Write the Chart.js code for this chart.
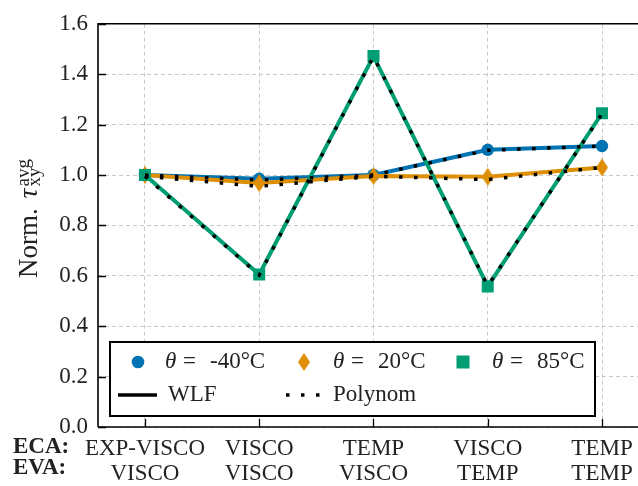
<!DOCTYPE html>
<html>
<head>
<meta charset="utf-8">
<script src="https://cdn.jsdelivr.net/npm/chart.js@4.4.0/dist/chart.umd.min.js"></script>
<style>
  body { margin: 0; background: #fff; }
  #wrap { width: 638px; height: 486px; }
</style>
</head>
<body>
<div id="wrap"><canvas id="grafico" width="638" height="486"></canvas></div>
<script>
// Categorias del eje X (dos filas: ECA y EVA)
const categoriasECA = ["EXP-VISCO", "VISCO", "TEMP", "VISCO", "TEMP"];
const categoriasEVA = ["VISCO", "VISCO", "VISCO", "TEMP", "TEMP"];

// Ticks del eje Y
const ticksY = [0.0, 0.2, 0.4, 0.6, 0.8, 1.0, 1.2, 1.4, 1.6];

// Valores WLF (lineas de color)
const wlfMenos40 = [1.0, 0.985, 1.0, 1.10, 1.115];
const wlf20 = [1.0, 0.968, 0.996, 0.993, 1.03];
const wlf85 = [1.0, 0.605, 1.472, 0.558, 1.245];

// Valores Polynom (lineas punteadas negras)
const polyMenos40 = [1.0, 0.98, 1.0, 1.098, 1.115];
const poly20 = [0.995, 0.955, 0.995, 0.982, 1.03];
const poly85 = [0.995, 0.603, 1.47, 0.56, 1.243];

const azul = '#0173b2';
const naranja = '#de8f05';
const verde = '#029e73';
const fuente = "'Liberation Serif', 'Times New Roman', serif";
const colorTexto = '#222';

// Rombo estrecho como en matplotlib ('d')
function crearRombo(w, h, color) {
    const c = document.createElement('canvas');
    c.width = w; c.height = h;
    const g = c.getContext('2d');
    g.fillStyle = color;
    g.beginPath();
    g.moveTo(w / 2, 0);
    g.lineTo(w, h / 2);
    g.lineTo(w / 2, h);
    g.lineTo(0, h / 2);
    g.closePath();
    g.fill();
    return c;
}
const rombo = crearRombo(12, 18, naranja);

const aPuntos = (arr) => arr.map((v, i) => ({ x: i, y: v }));

function serieWLF(valores, color, estilo, radio, orden) {
    return {
        data: aPuntos(valores),
        borderColor: color,
        backgroundColor: color,
        borderWidth: 4,
        pointStyle: estilo,
        pointRadius: radio,
        pointHoverRadius: radio,
        pointBorderWidth: 0,
        tension: 0,
        order: orden
    };
}

function seriePoly(valores, orden) {
    return {
        data: aPuntos(valores),
        borderColor: '#000',
        borderWidth: 3.5,
        borderDash: [3.5, 11.5],
        borderCapStyle: 'butt',
        pointRadius: 0,
        tension: 0,
        order: orden
    };
}

// Dibujar texto con theta en cursiva
function textoTheta(ctx, x, y, resto) {
    ctx.font = 'italic 23px ' + fuente;
    ctx.fillText('\u03b8', x, y);
    ctx.font = '23px ' + fuente;
    ctx.fillText('=', x + 18, y);
    ctx.fillText(resto, x + 45, y);
}

const extras = {
    id: 'extras',
    afterDraw(chart) {
        const ctx = chart.ctx;
        const area = chart.chartArea;
        const sx = chart.scales.x, sy = chart.scales.y;
        ctx.save();

        // Ejes (spines)
        ctx.strokeStyle = '#000';
        ctx.lineWidth = 1.6;
        ctx.beginPath();
        ctx.moveTo(area.left, area.bottom);
        ctx.lineTo(area.left, area.top);
        ctx.lineTo(area.right, area.top);
        ctx.moveTo(area.left, area.bottom);
        ctx.lineTo(area.right, area.bottom);
        ctx.stroke();

        // Ticks hacia dentro
        ctx.lineWidth = 1.3;
        ctx.beginPath();
        for (const t of ticksY) {
            const py = Math.round(sy.getPixelForValue(t)) + 0.5;
            ctx.moveTo(area.left, py); ctx.lineTo(area.left + 8, py);
        }
        for (let i = 0; i < categoriasECA.length; i++) {
            const px = Math.round(sx.getPixelForValue(i)) + 0.5;
            ctx.moveTo(px, area.bottom); ctx.lineTo(px, area.bottom - 8);
        }
        ctx.stroke();

        // Leyenda
        const lx = 110, ly = 342, lw = 485, lh = 74;
        ctx.fillStyle = '#fff';
        ctx.fillRect(lx, ly, lw, lh);
        ctx.strokeStyle = '#000';
        ctx.lineWidth = 2;
        ctx.strokeRect(lx, ly, lw, lh);

        const fila1 = 362, fila2 = 395;
        ctx.fillStyle = azul;
        ctx.beginPath(); ctx.arc(138, fila1, 6.3, 0, Math.PI * 2); ctx.fill();
        ctx.drawImage(rombo, 304 - 6, fila1 - 9);
        ctx.fillStyle = verde;
        ctx.fillRect(463 - 6.5, fila1 - 6.5, 13, 13);

        ctx.fillStyle = colorTexto;
        ctx.textBaseline = 'middle';
        ctx.textAlign = 'left';
        textoTheta(ctx, 165, fila1, '-40\u00b0C');
        textoTheta(ctx, 333, fila1, '20\u00b0C');
        textoTheta(ctx, 492, fila1, '85\u00b0C');

        ctx.strokeStyle = '#000';
        ctx.lineWidth = 3.5;
        ctx.setLineDash([]);
        ctx.beginPath(); ctx.moveTo(118, fila2); ctx.lineTo(157, fila2); ctx.stroke();
        ctx.setLineDash([3.5, 11.5]);
        ctx.beginPath(); ctx.moveTo(286, fila2); ctx.lineTo(322, fila2); ctx.stroke();
        ctx.setLineDash([]);
        ctx.font = '23px ' + fuente;
        ctx.fillText('WLF', 168, fila2);
        ctx.fillText('Polynom', 333, fila2);

        // Etiquetas ECA / EVA
        ctx.font = 'bold 23px ' + fuente;
        ctx.fillText('ECA:', 13, 447);
        ctx.fillText('EVA:', 13, 468);

        // Titulo del eje Y: Norm. tau_xy^avg
        ctx.translate(37, 218.5);
        ctx.rotate(-Math.PI / 2);
        ctx.textBaseline = 'alphabetic';
        ctx.font = '27px ' + fuente;
        const t1 = 'Norm.';
        const w1 = ctx.measureText(t1).width + 10;
        ctx.font = 'italic 27px ' + fuente;
        const w2 = ctx.measureText('\u03c4').width;
        ctx.font = '19px ' + fuente;
        const w3 = Math.max(ctx.measureText('xy').width, ctx.measureText('avg').width);
        let x0 = -(w1 + w2 + w3 + 2) / 2;
        ctx.font = '27px ' + fuente;
        ctx.fillText(t1, x0, 0);
        ctx.font = 'italic 27px ' + fuente;
        ctx.fillText('\u03c4', x0 + w1, 0);
        ctx.font = '19px ' + fuente;
        ctx.fillText('avg', x0 + w1 + w2 + 2, -8);
        ctx.fillText('xy', x0 + w1 + w2 + 2, 3);

        ctx.restore();
    }
};

const ctx = document.getElementById('grafico');

const grafico = new Chart(ctx, {
    type: 'line',
    data: {
        datasets: [
            serieWLF(wlfMenos40, azul, 'circle', 6.2, 6),
            serieWLF(wlf20, naranja, rombo, 6, 5),
            serieWLF(wlf85, verde, 'rect', 8.5, 4),
            seriePoly(polyMenos40, 3),
            seriePoly(poly20, 2),
            seriePoly(poly85, 1)
        ]
    },
    options: {
        responsive: false,
        animation: false,
        devicePixelRatio: 1,
        layout: { autoPadding: false, padding: { top: 12, left: 0, right: 0, bottom: 0 } },
        plugins: {
            legend: { display: false },
            tooltip: { enabled: false }
        },
        scales: {
            x: {
                type: 'linear',
                min: -0.411,
                max: 4.315,
                afterBuildTicks: (eje) => {
                    eje.ticks = categoriasECA.map((c, i) => ({ value: i }));
                },
                afterFit: (eje) => {
                    eje.height = 59;
                    eje.paddingLeft = 0;
                    eje.paddingRight = 0;
                },
                grid: { color: '#c9c9c9', lineWidth: 1, drawTicks: false },
                border: { display: false, dash: [4, 3] },
                ticks: {
                    padding: 9,
                    color: colorTexto,
                    font: { family: fuente, size: 23, lineHeight: 25 / 23 },
                    maxRotation: 0,
                    autoSkip: false,
                    callback: (v, i) => [categoriasECA[i], categoriasEVA[i]]
                }
            },
            y: {
                min: 0,
                max: 1.6,
                afterBuildTicks: (eje) => {
                    eje.ticks = ticksY.map(v => ({ value: v }));
                },
                afterFit: (eje) => { eje.width = 98; },
                grid: { color: '#c9c9c9', lineWidth: 1, drawTicks: false },
                border: { display: false, dash: [4, 3] },
                ticks: {
                    padding: 10,
                    color: colorTexto,
                    font: { family: fuente, size: 23 },
                    callback: (v) => v.toFixed(1)
                }
            }
        }
    },
    plugins: [extras]
});
</script>
</body>
</html>
